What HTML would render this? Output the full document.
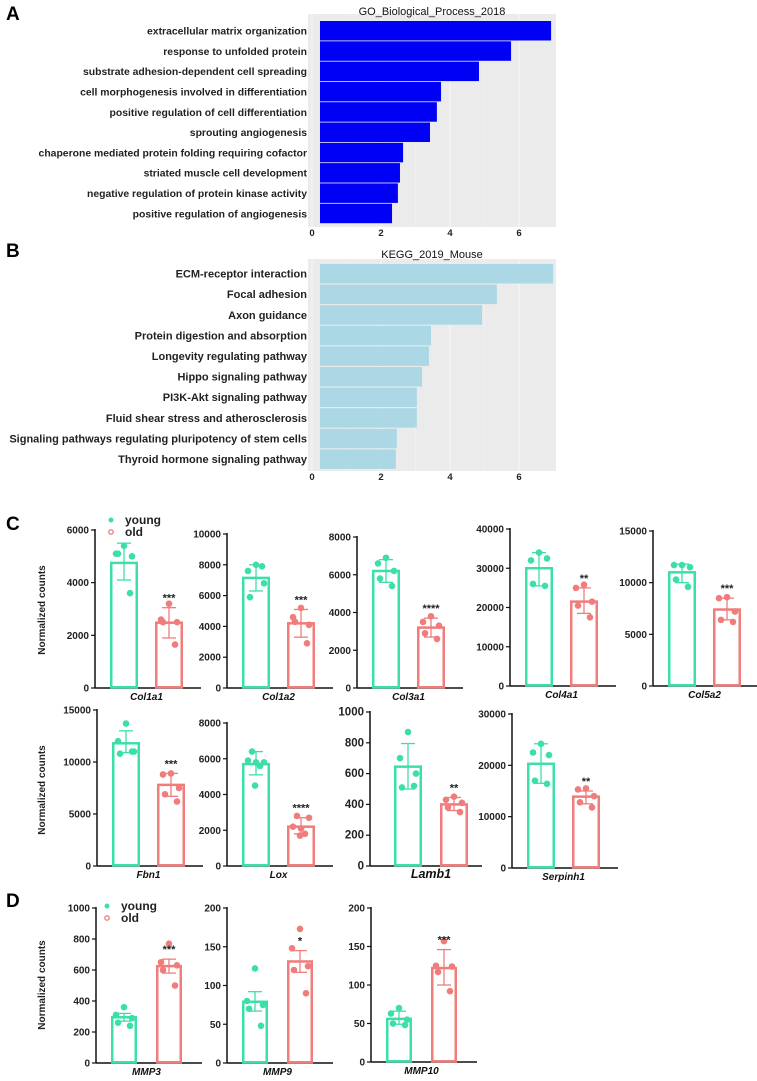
<!DOCTYPE html>
<html><head><meta charset="utf-8">
<style>
html,body{margin:0;padding:0;background:#fff;}
svg{display:block;font-family:"Liberation Sans",Arial,sans-serif;}
</style></head>
<body>
<svg id="fig" width="757" height="1081" viewBox="0 0 757 1081" xmlns="http://www.w3.org/2000/svg">
<text x="6" y="20" font-size="19" font-weight="bold">A</text>
<text x="6" y="257" font-size="19" font-weight="bold">B</text>
<text x="6" y="530" font-size="19" font-weight="bold">C</text>
<text x="6" y="907" font-size="19" font-weight="bold">D</text>
</svg>
<script>
const goTerms=["extracellular matrix organization","response to unfolded protein","substrate adhesion-dependent cell spreading","cell morphogenesis involved in differentiation","positive regulation of cell differentiation","sprouting angiogenesis","chaperone mediated protein folding requiring cofactor","striated muscle cell development","negative regulation of protein kinase activity","positive regulation of angiogenesis"];
const goValues=[6.93,5.77,4.84,3.74,3.62,3.42,2.64,2.55,2.49,2.32];
const keggTerms=["ECM-receptor interaction","Focal adhesion","Axon guidance","Protein digestion and absorption","Longevity regulating pathway","Hippo signaling pathway","PI3K-Akt signaling pathway","Fluid shear stress and atherosclerosis","Signaling pathways regulating pluripotency of stem cells","Thyroid hormone signaling pathway"];
const keggValues=[6.99,5.36,4.93,3.45,3.39,3.19,3.04,3.04,2.46,2.43];
const enrichTicks=[0,2,4,6];

const genes=["Col1a1","Col1a2","Col3a1","Col4a1","Col5a2","Fbn1","Lox","Lamb1","Serpinh1","MMP3","MMP9","MMP10"];
const yMax=[6000,10000,8000,40000,15000,15000,8000,1000,30000,1000,200,200];
const yStep=[2000,2000,2000,10000,5000,5000,2000,200,10000,200,50,50];
const youngMean=[4750,7150,6200,30000,11000,11800,5700,645,20300,295,79,56];
const youngLo=[4100,6300,5600,25500,10000,10900,5100,500,16500,270,67,49];
const youngHi=[5500,8000,6800,34000,11800,13000,6400,795,24200,320,92,66];
const youngPts=[[5400,5100,5000,5100,3600],[8000,7600,6800,5900,7900],[6900,6600,6200,5800,5400],[34000,32000,32500,26000,25500],[11700,11700,11500,10300,9600],[13700,12000,11000,10800,11000],[6400,5800,5900,5800,5600,4500],[870,700,600,510,520],[24200,22500,22000,17000,16400],[360,310,290,260,240],[122,80,75,70,48],[70,63,55,50,48]];
const oldMean=[2480,4200,3200,21500,7400,7800,2200,400,13900,625,131,122];
const oldLo=[1900,3300,2700,18500,6400,6700,1800,360,12500,580,117,100];
const oldHi=[3050,5100,3700,25000,8500,8900,2700,445,15000,670,145,146];
const oldPts=[[3200,2600,2500,2500,1650],[5200,4600,4100,4300,2900],[3800,3500,3300,2900,2600],[25800,25000,21500,20500,17500],[8600,8500,7200,6400,6200],[8900,8800,7500,6900,6200],[2800,2700,2200,2100,1800,1700],[450,430,410,380,350],[15500,15300,14000,12800,11800],[770,650,630,600,500],[173,148,125,120,90],[157,125,124,117,92]];
const sigLabels=["***","***","****","**","***","***","****","**","**","***","*","***"];

const svg=document.getElementById('fig');
const NS="http://www.w3.org/2000/svg";
function mk(tag,attrs,parent){const e=document.createElementNS(NS,tag);for(const k in attrs)e.setAttribute(k,attrs[k]);(parent||svg).appendChild(e);return e;}

function enrich(terms,vals,title,color,top,bgTop,bgBot,pitch,bh,labelX,fs,nameP){
  const g=mk('g',{});
  
  
  const x0=312,sc=34.5;
  const X=v=>x0+v*sc;
  const bg=mk('rect',{x:308,y:bgTop,width:248,height:bgBot-bgTop,fill:'#ebebeb'},g);
  
  
  for(let t=1;t<7;t+=2){mk('line',{x1:X(t),x2:X(t),y1:bgTop,y2:bgBot,stroke:'#f4f4f4','stroke-width':0.6},g);}
  enrichTicks.forEach(t=>{mk('line',{x1:X(t),x2:X(t),y1:bgTop,y2:bgBot,stroke:'#f7f7f7','stroke-width':1},g);
    const tl=mk('text',{x:X(t),y:bgBot+9,'font-size':9.5,'font-weight':'bold','text-anchor':'middle',fill:'#222'},g);tl.textContent=t;
    
    });
  const tt=mk('text',{x:432,y:top-6,'font-size':11,'text-anchor':'middle',fill:'#111'},g);tt.textContent=title;
  
  
  terms.forEach((t,i)=>{
    const y=top+i*pitch;
    const r=mk('rect',{x:320,y:y,width:X(vals[i])-320,height:bh,fill:color},g);
    
    
    const l=mk('text',{x:labelX,y:y+bh/2+3.8,'font-size':fs,'font-weight':'bold','text-anchor':'end',fill:'#222'},g);l.textContent=t;
    
    
  });
}
enrich(goTerms,goValues,'GO_Biological_Process_2018','#0000f5',21,14,227,20.3,19.5,307,10.4,'go');
enrich(keggTerms,keggValues,'KEGG_2019_Mouse','#acd8e6',264,259,471,20.6,19.5,307,11.0,'kegg');

const green='#3ddfa8',red='#f07c7c';
const layout=[[95,688,530],[227,688,534],[357,688,537],[510,686,529],[653,686,531],[97,866,710],[227,866,723],[370,866,712],[512,868,714],[96,1063,908],[227,1063,908],[371,1062,908]];
function barPanel(i){
  const [ax,y0,yT]=layout[i];
  const g=mk('g',{});
  
  
  const Y=v=>y0-(v/yMax[i])*(y0-yT);
  const bw=28;
  const yx=ax+(i===7?24:15), ox=ax+(i===7?70:60);
  const ywid=(i>=9)?26:bw;
  mk('line',{x1:ax,x2:ax,y1:yT-1,y2:y0,stroke:'#111','stroke-width':1.5},g);
  mk('line',{x1:ax,x2:ax+(i===7?112:106),y1:y0,y2:y0,stroke:'#111','stroke-width':1.5},g);
  for(let v=0;v<=yMax[i]+1e-9;v+=yStep[i]){
    mk('line',{x1:ax-4,x2:ax,y1:Y(v),y2:Y(v),stroke:'#111','stroke-width':1.2},g);
    const t=mk('text',{x:ax-6,y:Y(v)+3.5,'font-size':(i===7?11.5:10),'font-weight':'bold','text-anchor':'end',fill:'#222'},g);t.textContent=v;
    
    
  }
  function group(x,w,mean,lo,hi,pts,col,nm){
    const r=mk('rect',{x:x+1.25,y:Y(mean),width:w-2.5,height:y0-Y(mean)-0.75,fill:'none',stroke:col,'stroke-width':2.5},g);
    
    
    const cx=x+w/2;
    mk('line',{x1:cx,x2:cx,y1:Y(hi),y2:Y(lo),stroke:col,'stroke-width':1.3},g);
    mk('line',{x1:cx-7,x2:cx+7,y1:Y(hi),y2:Y(hi),stroke:col,'stroke-width':1.3},g);
    mk('line',{x1:cx-7,x2:cx+7,y1:Y(lo),y2:Y(lo),stroke:col,'stroke-width':1.3},g);
    const offs=pts.length===6?[-4,8,-8,0,4,-1]:[0,-8,8,-6,6];
    pts.forEach((p,k)=>{const c=mk('circle',{cx:cx+offs[k],cy:Y(p),r:3.3,fill:col},g);
      
      });
    return cx;
  }
  const c1=group(yx,ywid,youngMean[i],youngLo[i],youngHi[i],youngPts[i],green,'young');
  const c2=group(ox,ywid,oldMean[i],oldLo[i],oldHi[i],oldPts[i],red,'old');
  const s=mk('text',{x:c2,y:Y(oldHi[i])-6,'font-size':11,'font-weight':'bold','text-anchor':'middle',fill:'#222'},g);s.textContent=sigLabels[i];
  
  
  const gl=mk('text',{x:(c1+c2)/2,y:y0+12,'font-size':(i===7?12.5:10),'font-weight':'bold','font-style':'italic','text-anchor':'middle',fill:'#111'},g);gl.textContent=genes[i];
  
  
}
for(let i=0;i<genes.length;i++)barPanel(i);

[[610],[790],[985]].forEach(([cy])=>{
  const t=mk('text',{x:0,y:0,'font-size':10,'font-weight':'bold','text-anchor':'middle',fill:'#222',transform:'translate(45,'+cy+') rotate(-90)'});
  t.textContent='Normalized counts';
  
  
});
[[111,520],[107,906]].forEach(([lx,ly])=>{
  const a=mk('circle',{cx:lx,cy:ly,r:2.5,fill:green});
  
  
  const b=mk('circle',{cx:lx,cy:ly+12,r:2.2,fill:'none',stroke:red,'stroke-width':1.3});
  
  
  const t1=mk('text',{x:lx+14,y:ly+4,'font-size':12,'font-weight':'bold',fill:'#222'});t1.textContent='young';
  
  
  const t2=mk('text',{x:lx+14,y:ly+16,'font-size':12,'font-weight':'bold',fill:'#222'});t2.textContent='old';
  
  
});
</script>
</body></html>
